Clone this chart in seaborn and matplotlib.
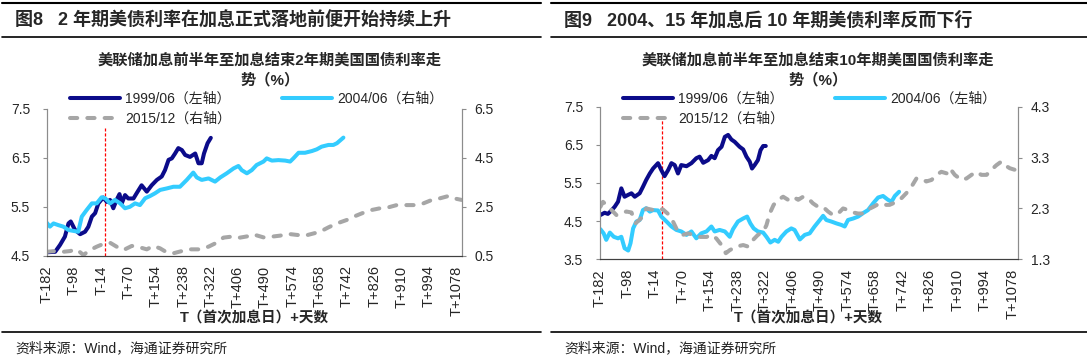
import matplotlib
matplotlib.use("Agg")
import matplotlib.pyplot as plt
from matplotlib.lines import Line2D
import seaborn as sns

# === 数据 ===
# 图8：2年期
p8_d99 = [-182, -156, -141, -126, -115, -108, -95, -79, -64, -54, -43, -33, -23, -8, 3,
          13, 23, 33, 42, 49, 59, 69, 85, 95, 110, 126, 141, 157, 172, 182,
          193, 203, 213, 223, 234, 244, 259, 275, 285, 295, 302, 313, 323]
p8_v99 = [4.57, 4.58, 4.72, 4.89, 5.16, 5.20, 5.03, 4.94, 4.99, 5.09, 5.30, 5.37, 5.57, 5.69, 5.60,
          5.64, 5.47, 5.64, 5.76, 5.57, 5.74, 5.67, 5.67, 5.78, 5.94, 5.81, 5.94, 6.05, 6.12, 6.25,
          6.46, 6.49, 6.59, 6.70, 6.66, 6.56, 6.52, 6.59, 6.39, 6.39, 6.59, 6.80, 6.91]
p8_d04 = [-182, -172, -161, -146, -131, -115, -85, -74, -59, -43, -28, -13, -2, 13, 28,
          44, 59, 74, 90, 105, 121, 136, 151, 167, 187, 208, 228, 249, 269, 280,
          295, 316, 336, 352, 372, 393, 408, 418, 434, 449, 464, 485, 495, 511, 531,
          552, 567, 577, 593, 613, 634, 649, 664, 685, 700, 711, 731]
p8_v04 = [1.85, 1.69, 1.82, 1.75, 1.69, 1.55, 1.48, 2.10, 2.37, 2.64, 2.64, 2.89, 2.85, 2.64, 2.78,
          2.64, 2.44, 2.50, 2.64, 2.57, 2.85, 2.94, 3.05, 3.19, 3.25, 3.32, 3.32, 3.60, 3.90, 3.70,
          3.60, 3.66, 3.53, 3.70, 3.87, 4.07, 4.17, 4.00, 3.87, 4.00, 4.21, 4.35, 4.48, 4.39, 4.41,
          4.39, 4.35, 4.48, 4.71, 4.71, 4.78, 4.85, 4.96, 5.03, 5.03, 5.10, 5.33]
p8_d15 = [-182, -156, -131, -110, -90, -69, -49, -28, -8, 13, 33, 54, 80, 105, 126,
          146, 167, 187, 208, 234, 259, 290, 316, 336, 362, 387, 413, 439, 454, 485,
          511, 536, 562, 588, 613, 639, 659, 685, 711, 741, 767, 793, 818, 844, 870,
          895, 921, 947, 977, 1003, 1029, 1054, 1070, 1095]
p8_v15 = [0.66, 0.69, 0.66, 0.69, 0.76, 0.53, 0.73, 0.87, 0.98, 1.03, 0.87, 0.73, 0.90, 0.84, 0.76,
          0.90, 0.80, 0.64, 0.60, 0.69, 0.76, 0.76, 0.87, 1.00, 1.24, 1.28, 1.24, 1.30, 1.37, 1.25,
          1.28, 1.32, 1.39, 1.35, 1.32, 1.41, 1.48, 1.66, 1.82, 1.96, 2.12, 2.26, 2.37, 2.44, 2.48,
          2.57, 2.57, 2.57, 2.64, 2.78, 2.85, 2.94, 2.85, 2.78]

# 图9：10年期
p9_d99 = [-180, -167, -157, -146, -136, -126, -116, -106, -95, -85, -75, -60, -50, -40, -29,
          -19, -4, 6, 16, 27, 37, 47, 57, 67, 83, 98, 113, 123, 134, 149,
          159, 169, 179, 190, 200, 210, 220, 230, 245, 256, 266, 276, 283, 291, 301,
          309, 317, 325]
p9_v99 = [4.66, 4.72, 4.69, 4.78, 4.88, 5.01, 5.36, 5.14, 5.19, 5.23, 5.14, 5.23, 5.40, 5.58, 5.75,
          5.88, 6.02, 5.84, 5.68, 5.84, 6.02, 5.97, 5.75, 5.97, 5.94, 6.02, 6.15, 6.19, 6.03, 6.10,
          6.21, 6.15, 6.36, 6.45, 6.71, 6.76, 6.64, 6.58, 6.45, 6.38, 6.19, 6.06, 5.88, 5.97, 6.10,
          6.36, 6.47, 6.47]
p9_d04 = [-180, -170, -162, -151, -139, -126, -116, -106, -95, -88, -80, -70, -60, -50, -40,
          -29, -19, -4, 6, 22, 37, 52, 67, 83, 98, 113, 128, 144, 159, 169,
          184, 200, 215, 225, 240, 256, 268, 278, 288, 301, 317, 327, 339, 352, 363,
          373, 388, 403, 413, 429, 444, 459, 474, 490, 500, 510, 525, 541, 556, 566,
          576, 592, 607, 622, 637, 653, 668, 683, 698, 709, 719, 732]
p9_v04 = [4.29, 4.18, 4.01, 4.20, 4.09, 4.05, 4.09, 3.79, 3.73, 3.92, 4.31, 4.49, 4.53, 4.79, 4.84,
          4.75, 4.79, 4.78, 4.62, 4.49, 4.36, 4.27, 4.23, 4.14, 4.23, 4.05, 4.18, 4.23, 4.36, 4.23,
          4.27, 4.23, 4.09, 4.29, 4.49, 4.57, 4.62, 4.44, 4.31, 4.23, 4.20, 4.09, 3.94, 4.01, 3.96,
          4.09, 4.23, 4.31, 4.27, 4.02, 4.14, 4.18, 4.36, 4.53, 4.64, 4.53, 4.49, 4.44, 4.40, 4.36,
          4.53, 4.57, 4.62, 4.71, 4.79, 4.97, 5.12, 5.16, 5.06, 5.01, 5.16, 5.27]
p9_d15 = [-180, -172, -162, -146, -131, -116, -101, -85, -72, -55, -40, -19, -4, 11, 27,
          42, 57, 72, 88, 103, 123, 144, 159, 174, 190, 203, 215, 235, 256, 271,
          286, 301, 317, 327, 337, 349, 363, 378, 393, 408, 424, 439, 454, 469, 485,
          500, 515, 530, 546, 561, 576, 592, 607, 622, 637, 653, 673, 688, 703, 724,
          739, 754, 770, 785, 800, 815, 831, 846, 861, 877, 887, 902, 922, 938, 953,
          968, 983, 999, 1014, 1029, 1044, 1055, 1070, 1085, 1095]
p9_v15 = [2.33, 2.43, 2.37, 2.27, 2.17, 2.19, 2.24, 2.22, 2.01, 2.11, 2.30, 2.27, 2.30, 2.28, 2.19,
          2.04, 1.84, 1.78, 1.81, 1.78, 1.74, 1.74, 1.78, 1.71, 1.58, 1.42, 1.48, 1.55, 1.58, 1.55,
          1.68, 1.78, 1.84, 1.97, 2.20, 2.37, 2.47, 2.53, 2.47, 2.53, 2.47, 2.53, 2.50, 2.40, 2.33,
          2.33, 2.24, 2.17, 2.20, 2.30, 2.27, 2.22, 2.20, 2.20, 2.28, 2.33, 2.40, 2.37, 2.37, 2.43,
          2.50, 2.60, 2.73, 2.89, 2.89, 2.83, 2.86, 2.96, 3.02, 2.99, 3.09, 2.96, 2.86, 2.89, 2.96,
          3.02, 2.96, 2.96, 3.06, 3.15, 3.22, 3.15, 3.09, 3.06, 2.94]

tick_days = list(range(-182, 1079, 84))
tick_labels = [("T+%d" % d) if d > 0 else ("T%d" % d) for d in tick_days]

# === 样式 ===
sns.set_style("white")
plt.rcParams['font.family'] = ['Liberation Sans', 'Noto Sans CJK SC']
plt.rcParams['axes.unicode_minus'] = False

NAVY = '#0B0B8A'
SKY = '#33CCFF'
GREY = '#A6A6A6'
W, H = 1087, 363

fig = plt.figure(figsize=(W / 100, H / 100), dpi=100)


def px_rect(x0, y0, x1, y1):
    return [x0 / W, 1 - y1 / H, (x1 - x0) / W, (y1 - y0) / H]


def draw_line(ax, d, v, kind):
    if kind == 'navy':
        sns.lineplot(x=d, y=v, ax=ax, color=NAVY, lw=2.9, solid_capstyle='round')
    elif kind == 'sky':
        sns.lineplot(x=d, y=v, ax=ax, color=SKY, lw=2.9, solid_capstyle='round')
    else:
        sns.lineplot(x=d, y=v, ax=ax, color=GREY, lw=2.9, dashes=False)
        ax.lines[-1].set_dashes((1.8, 2.5))
        ax.lines[-1].set_dash_capstyle('round')
    return ax.lines[-1]


def panel(rect, fig_title, chart_title, title_cx, ylim_l, yt_l, ylim_r, yt_r,
          series, labels, event_day, event_top, leg_xy, rule_x):
    ax = fig.add_axes(px_rect(*rect))
    ax2 = ax.twinx()
    handles = []
    for (d, v, kind, side) in series:
        h = draw_line(ax if side == 'L' else ax2, d, v, kind)
        handles.append(h)
    ax.plot([event_day, event_day], [ylim_l[0], event_top], color='#FF0000', lw=0.9,
            ls=(0, (2.5, 1.5)), zorder=1)

    ax.set_xlim(-182, 1095)
    ax.set_ylim(*ylim_l)
    ax.set_yticks(yt_l)
    ax.set_yticklabels(["%.1f" % t for t in yt_l])
    ax2.set_ylim(*ylim_r)
    ax2.set_yticks(yt_r)
    ax2.set_yticklabels(["%.1f" % t for t in yt_r])
    ax.set_xticks(tick_days)
    ax.set_xticklabels(tick_labels, rotation=90)
    ax.set_xlabel('')
    ax.set_ylabel('')
    ax2.set_ylabel('')
    for a in (ax, ax2):
        a.spines['top'].set_visible(False)
        a.spines['left'].set_color('#8C8C8C')
        a.spines['right'].set_color('#8C8C8C')
        a.spines['bottom'].set_color('#404040')
        a.grid(False)
    ax.tick_params(axis='y', length=3, width=0.8, color='#8C8C8C', labelsize=10, pad=9)
    ax2.tick_params(axis='y', length=3, width=0.8, color='#8C8C8C', labelsize=10, pad=6)
    ax.tick_params(axis='x', length=4, width=0.8, color='#404040', labelsize=10.5, pad=3)

    ax.legend([handles[0], handles[2], handles[1]], [labels[0], labels[2], labels[1]],
              ncol=2, frameon=False, loc='upper left',
              bbox_to_anchor=(leg_xy[0] / W, 1 - leg_xy[1] / H), bbox_transform=fig.transFigure,
              borderpad=0, borderaxespad=0, handlelength=3.6, handletextpad=0.35,
              columnspacing=3.7, labelspacing=0.4, fontsize=10)

    xc = (rect[0] + rect[2]) / 2
    fig.text(xc / W, 1 - 318 / H, 'T（首次加息日）+天数', ha='center', va='center',
             fontsize=10.5, fontweight='bold')
    fig.text(rule_x[0] / W + 13 / W, 1 - 20 / H, fig_title, ha='left', va='center',
             fontsize=13, fontweight='bold')
    fig.text(title_cx / W, 1 - 70 / H, chart_title, ha='center', va='center',
             fontsize=11, fontweight='bold', linespacing=1.45)
    fig.text(rule_x[0] / W + 13 / W, 1 - 348 / H, '资料来源：Wind，海通证券研究所',
             ha='left', va='center', fontsize=10, color='#222222')
    for yy, lw in ((3, 1.5), (37, 1.2), (332, 1.2)):
        fig.add_artist(Line2D([rule_x[0] / W, rule_x[1] / W], [1 - yy / H, 1 - yy / H],
                              color='black', lw=lw, transform=fig.transFigure))


panel(rect=(46.7, 109, 461.7, 255.7),
      fig_title='图8   2 年期美债利率在加息正式落地前便开始持续上升',
      chart_title='美联储加息前半年至加息结束2年期美国国债利率走\n势（%）', title_cx=270,
      ylim_l=(4.5, 7.5), yt_l=[4.5, 5.5, 6.5, 7.5],
      ylim_r=(0.5, 6.5), yt_r=[0.5, 2.5, 4.5, 6.5],
      series=[(p8_d99, p8_v99, 'navy', 'L'), (p8_d04, p8_v04, 'sky', 'R'),
              (p8_d15, p8_v15, 'grey', 'R')],
      labels=['1999/06（左轴）', '2004/06（右轴）', '2015/12（右轴）'],
      event_day=-3, event_top=7.12, leg_xy=(70, 92), rule_x=(2, 541))

panel(rect=(599.7, 106.7, 1018, 259.3),
      fig_title='图9   2004、15 年加息后 10 年期美债利率反而下行',
      chart_title='美联储加息前半年至加息结束10年期美国国债利率走\n势（%）', title_cx=818,
      ylim_l=(3.5, 7.5), yt_l=[3.5, 4.5, 5.5, 6.5, 7.5],
      ylim_r=(1.3, 4.3), yt_r=[1.3, 2.3, 3.3, 4.3],
      series=[(p9_d99, p9_v99, 'navy', 'L'), (p9_d04, p9_v04, 'sky', 'L'),
              (p9_d15, p9_v15, 'grey', 'R')],
      labels=['1999/06（左轴）', '2004/06（左轴）', '2015/12（右轴）'],
      event_day=9, event_top=7.31, leg_xy=(623, 92), rule_x=(551, 1087))

fig.savefig('out.png', dpi=100)
